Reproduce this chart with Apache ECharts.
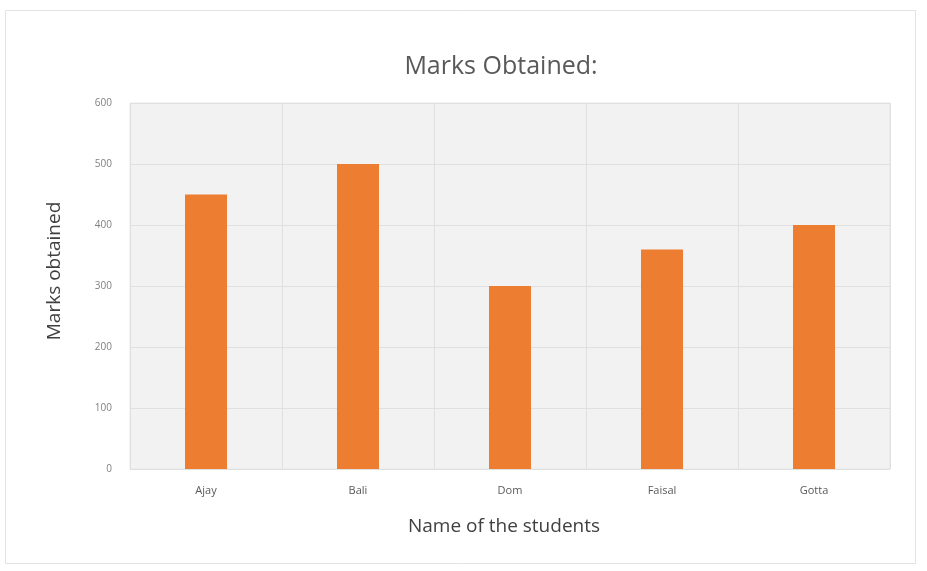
<!DOCTYPE html>
<html>
<head>
<meta charset="utf-8">
<script src="https://cdn.jsdelivr.net/npm/echarts@6/dist/echarts.min.js"></script>
<style>
html,body{margin:0;padding:0;background:#fff;}
#main{width:927px;height:571px;}
</style>
</head>
<body>
<div id="main"></div>
<script>
const categories = ["Ajay", "Bali", "Dom", "Faisal", "Gotta"];
const marks = [450, 500, 300, 360, 400];
const yTicks = [0, 100, 200, 300, 400, 500, 600];

const chart = echarts.init(document.getElementById('main'));
chart.setOption({
  backgroundColor: '#ffffff',
  animation: false,
  graphic: [{
    type: 'rect',
    shape: { x: 5.5, y: 10.5, width: 910, height: 553 },
    style: { fill: 'none', stroke: '#e3e3e3', lineWidth: 1 },
    z: -1
  }],
  title: {
    text: 'Marks Obtained:',
    left: 496,
    textAlign: 'center',
    top: 49,
    textStyle: { fontFamily: 'Open Sans', fontWeight: 'normal', fontSize: 25, color: '#595959' }
  },
  grid: {
    left: 130, right: 37, top: 103, bottom: 102,
    show: true,
    backgroundColor: '#f2f2f2',
    borderColor: '#e6e6e6',
    borderWidth: 1
  },
  xAxis: {
    type: 'category',
    data: categories,
    name: 'Name of the students',
    nameLocation: 'middle',
    nameGap: 48,
    nameTextStyle: { fontFamily: 'Open Sans', fontSize: 19, color: '#404040', padding: [0, 0, 0, -12] },
    axisLine: { show: false },
    axisTick: { show: false },
    axisLabel: { fontFamily: 'Open Sans', fontSize: 11, color: '#595959', margin: 16 },
    splitLine: { show: true, lineStyle: { color: '#e0e0e0', width: 1 } }
  },
  yAxis: {
    type: 'value',
    min: yTicks[0],
    max: yTicks[yTicks.length - 1],
    interval: 100,
    name: 'Marks obtained',
    nameLocation: 'middle',
    nameGap: 66,
    nameTextStyle: { fontFamily: 'Open Sans', fontSize: 19, color: '#404040', padding: [0, 0, 0, 30] },
    axisLine: { show: false },
    axisTick: { show: false },
    axisLabel: { fontFamily: 'Open Sans', fontSize: 10, color: '#7f7f7f', margin: 18 },
    splitLine: { show: true, lineStyle: { color: '#e0e0e0', width: 1 } }
  },
  series: [{
    type: 'bar',
    data: marks,
    barWidth: 42,
    itemStyle: { color: '#ED7D31' }
  }]
});
</script>
</body>
</html>
